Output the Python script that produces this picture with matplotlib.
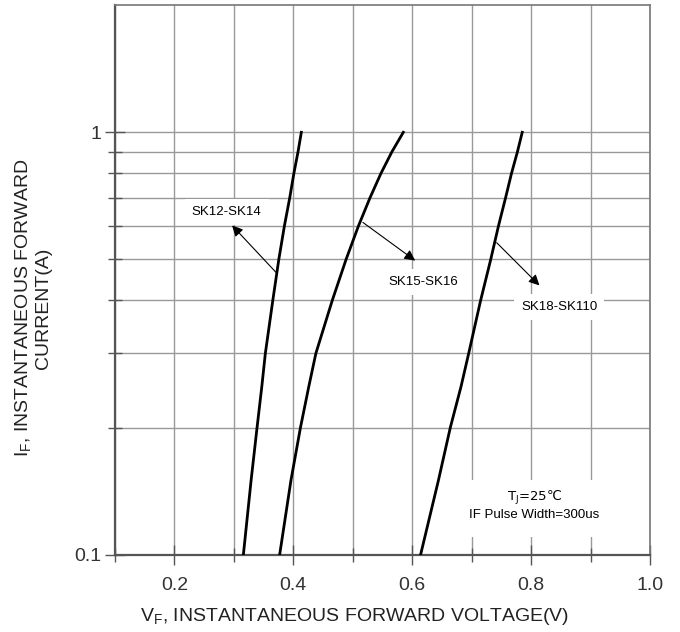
import numpy as np
import matplotlib
matplotlib.use('Agg')
import matplotlib.pyplot as plt
from matplotlib.patches import Rectangle
from matplotlib.ticker import FixedLocator, NullFormatter

plt.rcParams['font.family'] = ['Liberation Sans', 'DejaVu Sans']

# forward current points (A) and voltages (V)
current = [0.1, 0.15, 0.2, 0.25, 0.3, 0.4, 0.5, 0.6, 0.7, 0.8, 0.9, 1.0]
vf_sk12 = [0.316, 0.329, 0.339, 0.347, 0.353, 0.3655, 0.3756, 0.385, 0.394, 0.401, 0.408, 0.4135]
vf_sk15 = [0.377, 0.396, 0.412, 0.426, 0.438, 0.4655, 0.4887, 0.5095, 0.529, 0.5475, 0.566, 0.585]
vf_sk18 = [0.614, 0.644, 0.664, 0.682, 0.695, 0.715, 0.732, 0.745, 0.757, 0.767, 0.777, 0.785]

x_major = [0.2, 0.4, 0.6, 0.8, 1.0]
x_labels = ['0.2', '0.4', '0.6', '0.8', '1.0']
x_minor = [0.1, 0.3, 0.5, 0.7, 0.9]
y_major = [0.1, 1.0]
y_labels = ['0.1', '1']
y_minor = [0.2, 0.3, 0.4, 0.5, 0.6, 0.7, 0.8, 0.9]

fig = plt.figure(figsize=(6.8, 6.32), dpi=100)
ax = fig.add_axes([0.169, 0.122, 0.787, 0.870])

ax.set_yscale('log')
ax.set_xlim(0.1, 1.0)
ax.set_ylim(0.1, 2.0)

for v in (vf_sk12, vf_sk15, vf_sk18):
    ax.plot(v, current, color='black', lw=2.0, zorder=3, solid_joinstyle='round')

# ticks and grid
ax.xaxis.set_major_locator(FixedLocator(x_major))
ax.set_xticklabels(x_labels)
ax.xaxis.set_minor_locator(FixedLocator(x_minor))
ax.xaxis.set_minor_formatter(NullFormatter())
ax.yaxis.set_major_locator(FixedLocator(y_major))
ax.set_yticklabels(y_labels)
ax.yaxis.set_minor_locator(FixedLocator(y_minor))
ax.yaxis.set_minor_formatter(NullFormatter())
ax.grid(True, which='both', color='#999999', lw=1.0, zorder=0)
ax.set_axisbelow(True)

ax.tick_params(axis='both', which='major', direction='inout', length=14, width=1.0,
               color='#555555', labelsize=14, labelcolor='#333333')
ax.tick_params(axis='both', which='minor', direction='inout', length=10, width=1.0,
               color='#555555')
ax.tick_params(axis='x', which='major', pad=9)
ax.tick_params(axis='y', which='major', pad=3)

for s in ('left', 'bottom'):
    ax.spines[s].set_color('#555555')
    ax.spines[s].set_linewidth(1.6)
for s in ('top', 'right'):
    ax.spines[s].set_color('#777777')
    ax.spines[s].set_linewidth(1.2)

ax.set_xlabel('V$_\\mathregular{F}$, INSTANTANEOUS FORWARD VOLTAGE(V)', fontsize=14,
              color='#222222')
ax.xaxis.set_label_coords(0.448, -0.093)
ax.set_ylabel('I$_\\mathregular{F}$, INSTANTANEOUS FORWARD\nCURRENT(A)', fontsize=14,
              color='#222222', linespacing=1.05)
ax.yaxis.set_label_coords(-0.118, 0.449)

box = dict(facecolor='white', edgecolor='none', pad=5)
arrow = dict(arrowstyle='-|>', color='black', lw=0.8, mutation_scale=16,
             shrinkA=0, shrinkB=0)

ax.annotate('', xy=(0.297, 0.602), xytext=(0.371, 0.466), arrowprops=arrow, zorder=4)
ax.text(0.288, 0.646, 'SK12-SK14', fontsize=9.5, ha='center', va='center', bbox=box, zorder=4)
ax.annotate('', xy=(0.605, 0.497), xytext=(0.517, 0.612), arrowprops=arrow, zorder=4)
ax.text(0.619, 0.443, 'SK15-SK16', fontsize=9.5, ha='center', va='center', bbox=box, zorder=4)
ax.annotate('', xy=(0.814, 0.434), xytext=(0.742, 0.548), arrowprops=arrow, zorder=4)
ax.text(0.847, 0.385, 'SK18-SK110', fontsize=9.5, ha='center', va='center', bbox=box, zorder=4)

# conditions box
ax.add_patch(Rectangle((0.649, 0.033), 0.258, 0.103, transform=ax.transAxes,
                       facecolor='white', edgecolor='none', zorder=4))
ax.text(0.805, 0.1244, 'IF Pulse Width=300us', fontsize=9.5, ha='center', va='center', zorder=5)
ax.text(0.805, 0.1362, 'T$_\\mathregular{J}$=25\u2103', fontsize=9.5, ha='center', va='center',
        family='DejaVu Sans', zorder=5)

fig.savefig('out.png', dpi=100)
